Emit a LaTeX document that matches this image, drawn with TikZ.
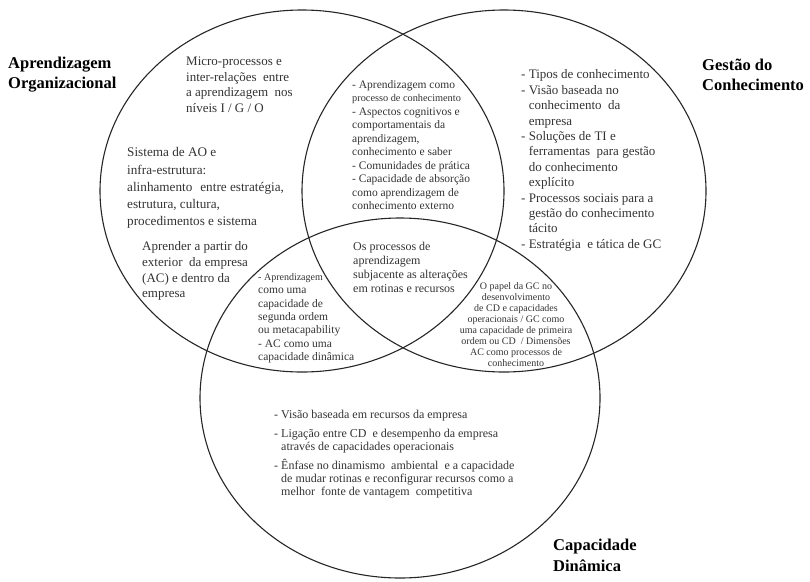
\documentclass[tikz,border=0pt]{standalone}
\usepackage{fontspec}
\setmainfont{Liberation Serif}
\newcommand{\fl}{\rule{0pt}{0.8em}}
\newcommand{\hg}{\phantom{-}\ }
\begin{document}
\begin{tikzpicture}[x=1pt,y=-1pt]
\tikzset{
  ring/.style={draw=black!85, line width=1.1pt},
  blk/.style={inner sep=0pt, anchor=north west, align=left, text=black!80},
  ttl/.style={inner sep=0pt, anchor=north west, align=left, text=black,
              font=\fontsize{16.5}{20.5}\selectfont\bfseries},
}
\useasboundingbox (0,0) rectangle (810,581);
% circles
\draw[ring] (302,191) ellipse [x radius=202pt, y radius=181pt];
\draw[ring] (504,191) ellipse [x radius=202pt, y radius=181pt];
\draw[ring] (400,398) ellipse [x radius=200pt, y radius=180pt];
% titles
\node[ttl] (tAO) at (8,54.8) {\fl Aprendizagem\\Organizacional};
\node[ttl] (tGC) at (702,56.8) {\fl Gestão do\\Conhecimento};
\node[ttl, font=\fontsize{16.5}{21}\selectfont\bfseries] (tCD) at (553,536.8) {\fl Capacidade\\Dinâmica};
% AO only
\node[blk, font=\fontsize{13}{15.4}\selectfont] (ao1) at (186,55.2)
  {\fl Micro-processos e\\inter-relações\ \ entre\\a aprendizagem\ \ nos\\níveis I / G / O};
\node[blk, font=\fontsize{13.2}{17.2}\selectfont] (ao2) at (127,146.2)
  {\fl Sistema de AO e\\infra-estrutura:\\alinhamento\hspace{0.6em}entre estratégia,\\estrutura, cultura,\\procedimentos e sistema};
\node[blk, font=\fontsize{13}{15.6}\selectfont] (ao3) at (142,240.2)
  {\fl Aprender a partir do\\exterior\ \ da empresa\\(AC) e dentro da\\empresa};
% AO and GC
\node[blk, font=\fontsize{11.5}{13.5}\selectfont] (aogc) at (352,79)
  {\fl - Aprendizagem como\\{\fontsize{10.3}{13.5}\selectfont processo de conhecimento}\\- Aspectos cognitivos e\\comportamentais da\\aprendizagem,\\conhecimento e saber\\- Comunidades de prática\\- Capacidade de absorção\\como aprendizagem de\\conhecimento externo};
% GC only
\node[blk, font=\fontsize{13}{15.4}\selectfont] (gc1) at (521,68.2)
  {\fl - Tipos de conhecimento\\- Visão baseada no\\\hg conhecimento\ \ da\\\hg empresa\\- Soluções de TI e\\\hg ferramentas\ \ para gestão\\\hg do conhecimento\\\hg explícito\\- Processos sociais para a\\\hg gestão do conhecimento\\\hg tácito\\- Estratégia\ \ e tática de GC};
% all three
\node[blk, font=\fontsize{12}{13.8}\selectfont] (all) at (353,240.8)
  {\fl Os processos de\\aprendizagem\\subjacente as alterações\\em rotinas e recursos};
% AO and CD
\node[blk, font=\fontsize{11.5}{13.4}\selectfont] (aocd) at (258,270.8)
  {\fl {\fontsize{10}{13.4}\selectfont - Aprendizagem}\\como uma\\capacidade de\\segunda ordem\\ou metacapability\\- AC como uma\\capacidade dinâmica};
% GC and CD
\node[blk, anchor=north, align=center, font=\fontsize{10}{11.1}\selectfont] (gccd) at (516,280.8)
  {\fl O papel da GC no\\desenvolvimento\\de CD e capacidades\\operacionais / GC como\\uma capacidade de primeira\\ordem ou CD\ \ / Dimensões\\AC como processos de\\conhecimento};
% CD only
\node[blk, font=\fontsize{12}{13}\selectfont] (cd1) at (274,408.8)
  {\fl - Visão baseada em recursos da empresa\\[6pt]- Ligação entre CD\ \ e desempenho da empresa\\\hg através de capacidades operacionais\\[6pt]- Ênfase no dinamismo\ \ ambiental\ \ e a capacidade\\\hg de mudar rotinas e reconfigurar recursos como a\\\hg melhor\ \ fonte de vantagem\ \ competitiva};
\end{tikzpicture}
\end{document}
